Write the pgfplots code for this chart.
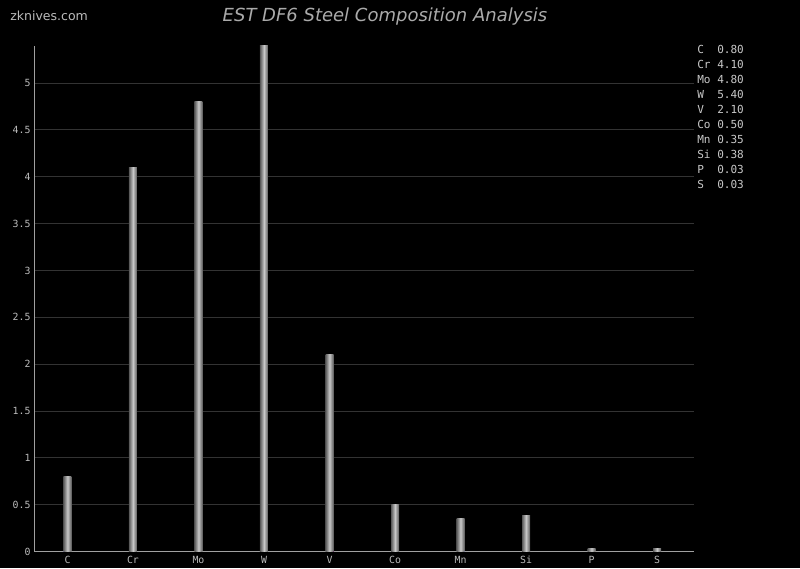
\documentclass[border=0pt]{standalone}
\usepackage{pgfplots}
\pgfplotsset{compat=1.18}
\usepackage{fontspec}
\setmainfont{DejaVu Sans}
\setmonofont{DejaVu Sans Mono}
\definecolor{tick}{HTML}{BBBBBB}
\definecolor{gridc}{HTML}{333333}
\definecolor{axisc}{HTML}{A0A0A0}
\definecolor{barE}{HTML}{5A5A5A}
\definecolor{barM}{HTML}{C8C8C8}
\begin{document}
\begin{tikzpicture}[x=0.75pt,y=0.75pt]
\useasboundingbox (0,0) rectangle (800,568);
\fill[black] (0,0) rectangle (800,568);
\begin{axis}[
  at={(53,17.5)}, anchor=south west,
  scale only axis, width=494.25pt, height=379.5pt,
  xmin=-0.5, xmax=9.56, ymin=0, ymax=5.4,
  axis x line*=bottom, axis y line*=left,
  axis line style={axisc, line width=0.8pt},
  x axis line style={-}, y axis line style={-},
  xtick={0,...,9},
  xticklabels={C,Cr,Mo,W,V,Co,Mn,Si,P,S},
  ytick={0,0.5,1,1.5,2,2.5,3,3.5,4,4.5,5},
  yticklabels={0,0.5,1,1.5,2,2.5,3,3.5,4,4.5,5},
  major tick length=0pt,
  tick style={draw=none},
  ymajorgrids, grid style={gridc, line width=0.8pt},
  ticklabel style={text=tick, font=\ttfamily\fontsize{7.4}{9}\selectfont, inner sep=0pt},
  xticklabel style={yshift=-3pt},
  yticklabel style={xshift=-3pt},
  ybar, bar width=6pt,
  every axis plot/.append style={draw=none, shading=axis, left color=barE, right color=barE, middle color=barM, bar shift=0pt},
  clip=false,
]
\addplot coordinates {(0,0.80)};
\addplot coordinates {(1,4.10)};
\addplot coordinates {(2,4.80)};
\addplot coordinates {(3,5.40)};
\addplot coordinates {(4,2.10)};
\addplot coordinates {(5,0.50)};
\addplot coordinates {(6,0.35)};
\addplot coordinates {(7,0.38)};
\addplot coordinates {(8,0.03)};
\addplot coordinates {(9,0.03)};
\end{axis}
\node[anchor=west, inner sep=0pt, text=tick, font=\fontsize{9.4}{12}\selectfont] at (10,552) {zknives.com};
\node[text=axisc!90!white, font=\itshape\fontsize{13.5}{15}\selectfont] at (385,551) {EST DF6 Steel Composition Analysis};
\foreach \t [count=\i from 0] in {C\ \ 0.80,Cr 4.10,Mo 4.80,W\ \ 5.40,V\ \ 2.10,Co 0.50,Mn 0.35,Si 0.38,P\ \ 0.03,S\ \ 0.03}
  \node[anchor=west, inner sep=0pt, text=barM, font=\ttfamily\fontsize{8.3}{9}\selectfont] at (697,519-15*\i) {\t};
\end{tikzpicture}
\end{document}
